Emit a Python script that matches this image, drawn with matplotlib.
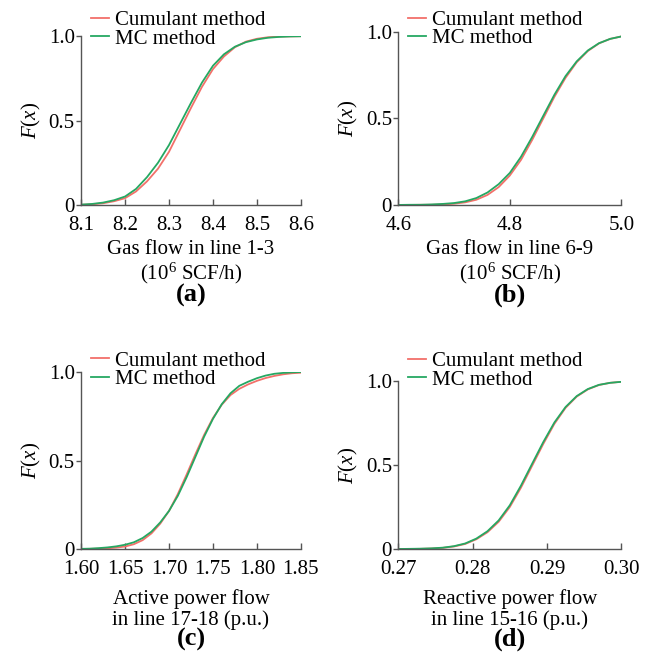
import numpy as np
import matplotlib
matplotlib.use("Agg")
import matplotlib.pyplot as plt

plt.rcParams['font.family'] = ['Liberation Serif', 'DejaVu Serif']
plt.rcParams['font.size'] = 15
plt.rcParams['mathtext.fontset'] = 'custom'
plt.rcParams['mathtext.rm'] = 'Liberation Serif'
plt.rcParams['mathtext.it'] = 'Liberation Serif:italic'

RED = '#f2706a'
GREEN = '#25a862'
SPINE = '#555555'

# ── data ─────────────────────────────────────────────────────────────
# (a) gas flow in line 1-3
xa = [8.100, 8.125, 8.150, 8.175, 8.200, 8.225, 8.250, 8.275, 8.300, 8.325, 8.350,
      8.375, 8.400, 8.425, 8.450, 8.475, 8.500, 8.525, 8.550, 8.575, 8.600]
cum_a = [0.001, 0.004, 0.010, 0.022, 0.040, 0.080, 0.140, 0.215, 0.315, 0.445, 0.575,
         0.700, 0.805, 0.880, 0.935, 0.968, 0.985, 0.994, 0.998, 0.999, 1.000]
mc_a = [0.002, 0.006, 0.014, 0.028, 0.050, 0.095, 0.165, 0.250, 0.355, 0.480, 0.605,
        0.725, 0.825, 0.893, 0.938, 0.965, 0.981, 0.991, 0.996, 0.999, 1.000]

# (b) gas flow in line 6-9
xb = [4.60, 4.62, 4.64, 4.66, 4.68, 4.70, 4.72, 4.74, 4.76, 4.78, 4.80,
      4.82, 4.84, 4.86, 4.88, 4.90, 4.92, 4.94, 4.96, 4.98, 5.00]
cum_b = [0.000, 0.000, 0.001, 0.001, 0.003, 0.007, 0.015, 0.030, 0.058, 0.103, 0.170,
         0.260, 0.375, 0.500, 0.625, 0.735, 0.825, 0.890, 0.934, 0.960, 0.974]
mc_b = [0.000, 0.001, 0.001, 0.003, 0.006, 0.011, 0.021, 0.040, 0.072, 0.120, 0.185,
        0.278, 0.392, 0.515, 0.637, 0.745, 0.830, 0.893, 0.935, 0.960, 0.974]

# (c) active power flow in line 17-18
xc = [1.60, 1.61, 1.62, 1.63, 1.64, 1.65, 1.66, 1.67, 1.68, 1.69, 1.70, 1.71, 1.72,
      1.73, 1.74, 1.75, 1.76, 1.77, 1.78, 1.79, 1.80, 1.81, 1.82, 1.83, 1.84, 1.85]
cum_c = [0.000, 0.001, 0.002, 0.004, 0.008, 0.014, 0.027, 0.050, 0.088, 0.143, 0.215,
         0.310, 0.420, 0.535, 0.645, 0.740, 0.815, 0.870, 0.905, 0.930, 0.950, 0.966,
         0.978, 0.987, 0.993, 0.996]
mc_c = [0.001, 0.002, 0.005, 0.009, 0.015, 0.024, 0.038, 0.062, 0.098, 0.150, 0.215,
        0.300, 0.405, 0.520, 0.635, 0.735, 0.818, 0.880, 0.922, 0.945, 0.965, 0.980,
        0.990, 0.995, 0.998, 1.000]

# (d) reactive power flow in line 15-16
xd = [0.2700, 0.2715, 0.2730, 0.2745, 0.2760, 0.2775, 0.2790, 0.2805, 0.2820, 0.2835,
      0.2850, 0.2865, 0.2880, 0.2895, 0.2910, 0.2925, 0.2940, 0.2955, 0.2970, 0.2985,
      0.3000]
cum_d = [0.000, 0.000, 0.001, 0.003, 0.007, 0.015, 0.030, 0.058, 0.100, 0.162, 0.250,
         0.365, 0.495, 0.625, 0.745, 0.840, 0.907, 0.950, 0.976, 0.989, 0.995]
mc_d = [0.000, 0.001, 0.002, 0.004, 0.008, 0.017, 0.033, 0.062, 0.106, 0.170, 0.260,
        0.377, 0.507, 0.636, 0.753, 0.845, 0.910, 0.952, 0.977, 0.989, 0.995]

xticks_a = [8.1, 8.2, 8.3, 8.4, 8.5, 8.6]
xticks_b = [4.6, 4.8, 5.0]
xticks_c = [1.60, 1.65, 1.70, 1.75, 1.80, 1.85]
xticks_d = [0.27, 0.28, 0.29, 0.30]

panels = [
    # x, cumulant, mc, ticks, fmt, label lines, tag, axes rect, legend y, text ys
    (xa, cum_a, mc_a, xticks_a, '{:.1f}',
     ['Gas flow in line 1-3', '(10$^6$ SCF/h)'], '(a)',
     [0.124, 0.689, 0.336, 0.256], 1.040, (-0.262, -0.405, -0.538)),
    (xb, cum_b, mc_b, xticks_b, '{:.1f}',
     ['Gas flow in line 6-9', '(10$^6$ SCF/h)'], '(b)',
     [0.609, 0.689, 0.341, 0.2625], 1.015, (-0.257, -0.397, -0.525)),
    (xc, cum_c, mc_c, xticks_c, '{:.2f}',
     ['Active power flow', 'in line 17-18 (p.u.)'], '(c)',
     [0.124, 0.1669, 0.336, 0.2686], 1.010, (-0.285, -0.400, -0.510)),
    (xd, cum_d, mc_d, xticks_d, '{:.2f}',
     ['Reactive power flow', 'in line 15-16 (p.u.)'], '(d)',
     [0.609, 0.1669, 0.341, 0.255], 1.062, (-0.300, -0.421, -0.537)),
]

fig = plt.figure(figsize=(6.54, 6.59), dpi=100)

for x, cum, mc, ticks, fmt, lines, tag, rect, leg_y, ys in panels:
    ax = fig.add_axes(rect)
    ax.plot(x, cum, color=RED, linewidth=1.3, label='Cumulant method')
    ax.plot(x, mc, color=GREEN, linewidth=1.3, label='MC method')
    ax.set_xlim(ticks[0], ticks[-1])
    ax.set_ylim(0, 1)
    ax.set_xticks(ticks)
    ax.set_xticklabels([fmt.format(t) for t in ticks])
    ax.set_yticks([0, 0.5, 1.0])
    ax.set_yticklabels(['0', '0.5', '1.0'])
    for side in ['top', 'right']:
        ax.spines[side].set_visible(False)
    for side in ['left', 'bottom']:
        ax.spines[side].set_color(SPINE)
        ax.spines[side].set_linewidth(1.0)
    ax.tick_params(axis='x', direction='in', length=4, width=1, color=SPINE, pad=8)
    ax.tick_params(axis='y', direction='out', length=3.5, width=1, color=SPINE, pad=1)
    ax.set_ylabel('$F$($x$)', labelpad=4)

    ax.legend(loc='center left', bbox_to_anchor=(0.045, leg_y), frameon=False,
              handlelength=0.85, handletextpad=0.3, labelspacing=-0.05,
              borderpad=0, borderaxespad=0)

    ax.text(0.5, ys[0], lines[0], transform=ax.transAxes, ha='center', va='center')
    ax.text(0.5, ys[1], lines[1], transform=ax.transAxes, ha='center', va='center')
    ax.text(0.5, ys[2], tag, transform=ax.transAxes, ha='center', va='center',
            fontweight='bold', fontsize=19)

plt.savefig('out.png', dpi=100)
print("Saved out.png")
